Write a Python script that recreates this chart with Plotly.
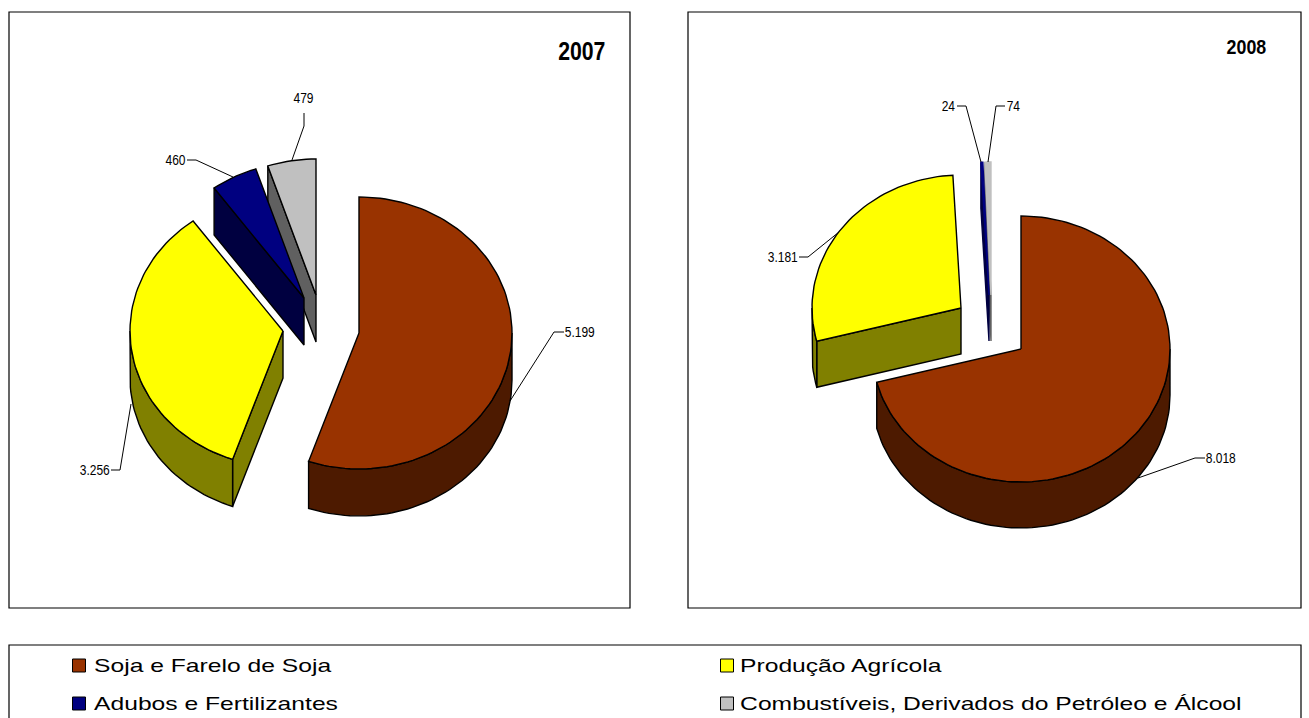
import json
import math
import plotly.graph_objects as go

categories = ["Soja e Farelo de Soja", "Produção Agrícola", "Adubos e Fertilizantes",
              "Combustíveis, Derivados do Petróleo e Álcool"]
values_2007 = [5199, 3256, 460, 479]
values_2008 = [8018, 3181, 24, 74]
labels_2007 = ["5.199", "3.256", "460", "479"]
labels_2008 = ["8.018", "3.181", "24", "74"]

top_colors = ["#993300", "#FFFF00", "#000080", "#C0C0C0"]
side_colors = ["#4D1A00", "#808000", "#000040", "#606060"]

# Slice centres (exploded), ellipse radii and extrusion depth for each panel
apex_2007 = [(359, 333), (283, 331), (304, 298), (316, 295)]
apex_2008 = [(1021, 349), (961, 308), (989, 295), (991, 295)]
radii_2007 = (153, 136, 47)
radii_2008 = (149, 133, 46)

fig = go.Figure()


def pt(c, r, deg):
    t = math.radians(deg)
    return c[0] + r[0] * math.sin(t), c[1] - r[1] * math.cos(t)


def arc(c, r, a0, a1):
    n = max(2, int(abs(a1 - a0) / 2) + 2)
    return [pt(c, r, a0 + (a1 - a0) * i / (n - 1)) for i in range(n)]


def poly(points, color, line_color="#000000", width=1.4):
    xs = [p[0] for p in points] + [points[0][0]]
    ys = [p[1] for p in points] + [points[0][1]]
    fig.add_trace(go.Scatter(x=xs, y=ys, mode="lines", fill="toself", fillcolor=color,
                             line=dict(color=line_color, width=width), hoverinfo="skip",
                             showlegend=False))


def pie(values, apexes, radii):
    total = sum(values)
    a, b, depth = radii
    r = (a, b)
    spans = []
    cur = 0.0
    for v in values:
        spans.append((cur, cur + v / total * 360))
        cur += v / total * 360
    for i in [3, 2, 1, 0]:
        c = apexes[i]
        s, e = spans[i]
        tiny = e - s < 3
        # visible wall along the slice's leading radial edge
        if 90 < s < 360:
            p = pt(c, r, s)
            poly([c, p, (p[0], p[1] + depth), (c[0], c[1] + depth)], side_colors[i],
                 side_colors[i] if tiny else "#000000")
        # visible outer wall on the near half of the ellipse
        lo, hi = max(s, 90), min(e, 270)
        if hi > lo:
            top = arc(c, r, lo, hi)
            poly(top + [(x, y + depth) for x, y in reversed(top)], side_colors[i])
        poly([c] + arc(c, r, s, e), top_colors[i], top_colors[i] if tiny else "#000000")


pie(values_2007, apex_2007, radii_2007)
pie(values_2008, apex_2008, radii_2008)

# Leader lines
leaders = [
    [(564, 332), (554, 332), (510, 401)],
    [(111, 470), (120, 470), (131, 404)],
    [(187, 160), (196, 160), (233, 177)],
    [(304, 113), (304, 126), (292, 160)],
    [(1205, 458), (1195, 458), (1138, 478)],
    [(799, 257), (808, 257), (839, 232)],
    [(957, 106), (966, 106), (981, 162)],
    [(1005, 106), (996, 106), (988, 162)],
]
for ln in leaders:
    fig.add_trace(go.Scatter(x=[p[0] for p in ln], y=[p[1] for p in ln], mode="lines",
                             line=dict(color="#000000", width=1), hoverinfo="skip", showlegend=False))

LABEL_FONT = dict(family="Liberation Sans", size=15, color="#000000")
label_pos = [(580, 331), (95, 469), (175.5, 159), (303.5, 97),
             (1221, 457), (783, 256), (948.5, 105), (1013.5, 105)]
for text, (x, y) in zip(labels_2007 + labels_2008, label_pos):
    fig.add_annotation(x=x, y=y, text=text, showarrow=False, font=LABEL_FONT,
                       xanchor="center", yanchor="middle")

fig.add_annotation(x=581.5, y=51, text="<b>2007</b>", showarrow=False, xanchor="center", yanchor="middle",
                   font=dict(family="Liberation Sans", size=25, color="#000000"))
fig.add_annotation(x=1246.5, y=46, text="<b>2008</b>", showarrow=False, xanchor="center", yanchor="middle",
                   font=dict(family="Liberation Sans", size=21, color="#000000"))

# Panels and legend frame
shapes = []
for x0, y0, x1, y1 in [(9, 12, 630, 608), (688, 12, 1301, 608), (9, 645, 1301, 730)]:
    shapes.append(dict(type="rect", xref="x", yref="y", x0=x0, y0=y0, x1=x1, y1=y1,
                       line=dict(color="#000000", width=1.2), layer="below"))

# Legend
leg_pos = [(79, 665.5), (727, 665.5), (79, 703.5), (727, 703.5)]
leg_text_dx = [13, 11, 13, 11]
for name, col, (x, y), dx in zip(categories, top_colors, leg_pos, leg_text_dx):
    fig.add_trace(go.Scatter(x=[x], y=[y], mode="markers", hoverinfo="skip", showlegend=False,
                             marker=dict(symbol="square", size=13, color=col,
                                         line=dict(color="#000000", width=1))))
    fig.add_annotation(x=x + dx, y=y, text=name, showarrow=False, xanchor="left", yanchor="middle",
                       font=dict(family="Liberation Sans", size=18, color="#000000"))

fig.update_layout(
    width=1309, height=718, margin=dict(l=0, r=0, t=0, b=0),
    paper_bgcolor="#FFFFFF", plot_bgcolor="#FFFFFF", showlegend=False, shapes=shapes,
    xaxis=dict(range=[0, 1309], visible=False, fixedrange=True),
    yaxis=dict(range=[718, 0], visible=False, fixedrange=True),
)

# Reference text is horizontally squeezed (labels) or stretched (legend).
post = """
document.body.style.margin='0';document.body.style.overflow='hidden';
var legend=%s;
document.querySelectorAll('.annotation-text').forEach(function(el){
  var b=el.getBBox(), t=el.textContent, s, ox;
  if(legend.indexOf(t)>=0){s=1.37; ox=b.x;}
  else if(t==='2007'||t==='2008'){s=0.85; ox=b.x+b.width/2;}
  else {s=0.8; ox=b.x+b.width/2;}
  el.setAttribute('transform','translate('+ox+' 0) scale('+s+' 1) translate('+(-ox)+' 0)');
});
""" % json.dumps(categories)
fig.write_html("out.html", config={"displayModeBar": False}, post_script=post)
